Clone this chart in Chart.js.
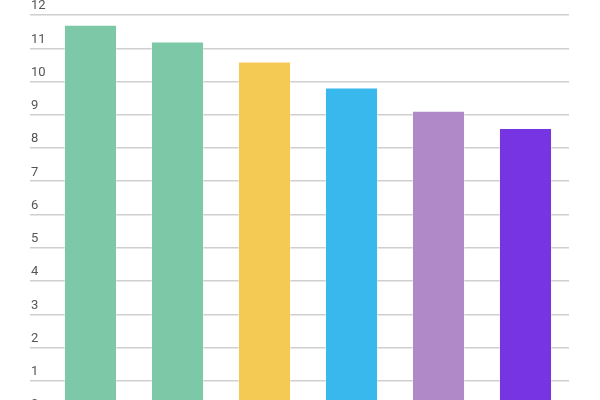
<!DOCTYPE html>
<html>
<head>
<meta charset="utf-8">
<script src="https://cdn.jsdelivr.net/npm/chart.js@4.4.1/dist/chart.umd.min.js"></script>
<style>
    html, body { margin: 0; padding: 0; background: #fff; overflow: hidden; }
    #wrap { width: 600px; height: 430px; }
</style>
</head>
<body>
<div id="wrap"><canvas id="barChart"></canvas></div>
<script>
// Données du graphique
const categories = ['A', 'B', 'C', 'D', 'E', 'F'];
const values = [11.71, 11.2, 10.6, 9.82, 9.12, 8.6];
const barColors = ['#7dc8a6', '#7dc8a6', '#f4ca55', '#38b8ec', '#b08ac8', '#7634e2'];
const yTicks = [0, 1, 2, 3, 4, 5, 6, 7, 8, 9, 10, 11, 12];

document.addEventListener('DOMContentLoaded', function() {
    Chart.defaults.font.family = "Roboto, 'Noto Sans', sans-serif";
    Chart.defaults.font.size = 13;
    Chart.defaults.color = '#555';

    const ctx = document.getElementById('barChart');
    new Chart(ctx, {
        type: 'bar',
        data: {
            labels: categories,
            datasets: [{
                data: values,
                backgroundColor: barColors,
                borderColor: 'rgba(255, 255, 255, 0.35)',
                borderWidth: 1,
                categoryPercentage: 1,
                barPercentage: 0.61
            }]
        },
        options: {
            responsive: true,
            maintainAspectRatio: false,
            animation: false,
            layout: {
                padding: { top: 15, bottom: 16, left: 30, right: 31 }
            },
            plugins: {
                legend: { display: false },
                tooltip: { enabled: false }
            },
            scales: {
                x: {
                    display: false
                },
                y: {
                    min: 0,
                    max: 12,
                    border: { display: false },
                    grid: {
                        color: '#cfcfcf',
                        lineWidth: 1.5,
                        drawTicks: true,
                        tickLength: 17
                    },
                    afterBuildTicks: function(axis) {
                        axis.ticks = yTicks.map(v => ({ value: v }));
                    },
                    // largeur fixe : les traits de graduation prolongent la grille à gauche
                    afterFit: function(axis) {
                        axis.width = 17;
                    },
                    ticks: {
                        mirror: true,
                        crossAlign: 'near',
                        padding: -16,
                        labelOffset: -9,
                        color: '#555',
                        font: { size: 13 }
                    }
                }
            }
        }
    });
});
</script>
</body>
</html>
